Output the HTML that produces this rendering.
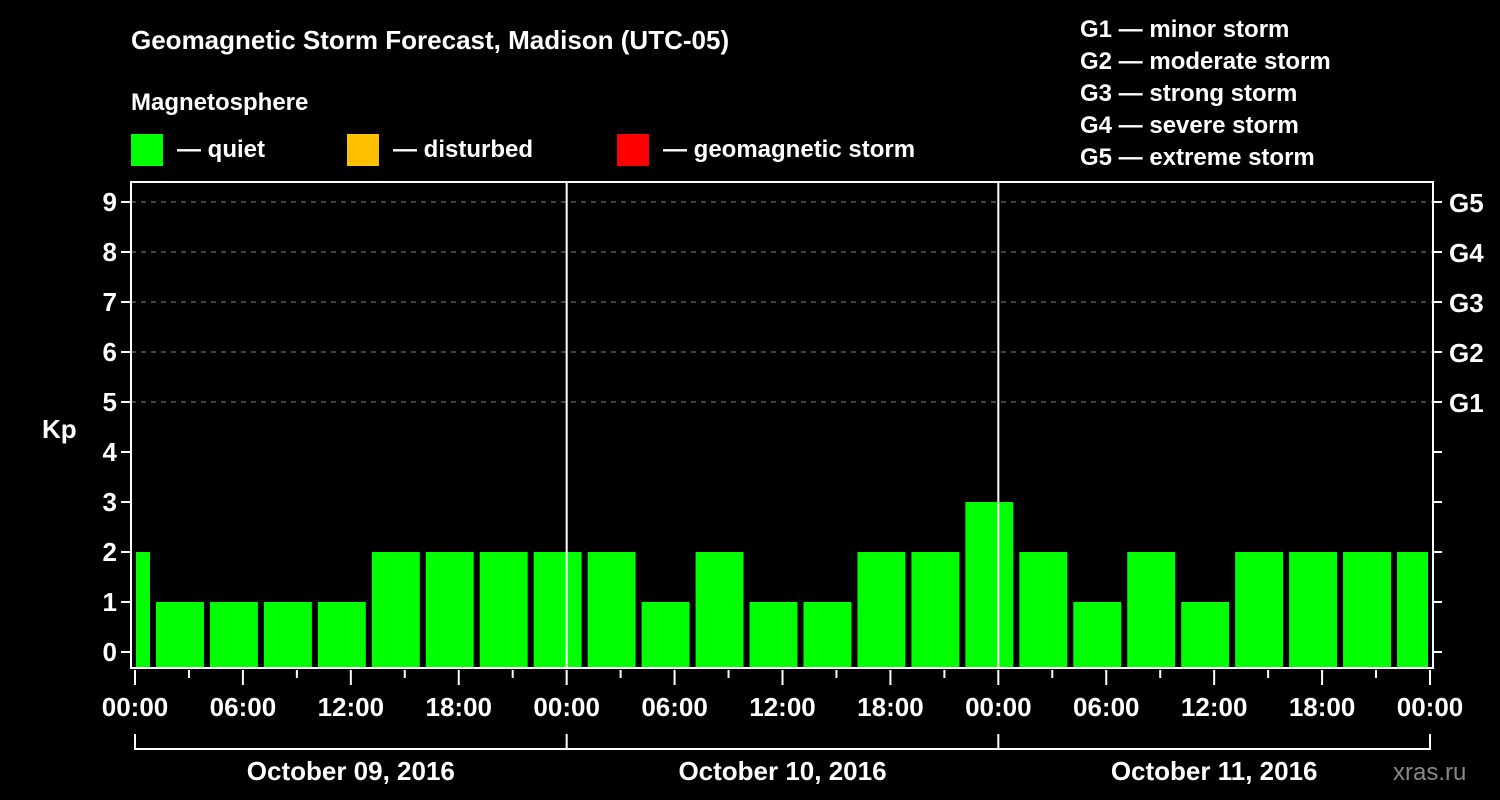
<!DOCTYPE html>
<html><head><meta charset="utf-8"><style>
body{margin:0;background:#000;}
svg{display:block;font-family:"Liberation Sans",Arial,sans-serif;font-weight:bold;}
</style></head><body>
<svg id="c" width="1500" height="800" viewBox="0 0 1500 800">
<rect width="1500" height="800" fill="#000"/>
<text x="131" y="49" fill="#fff" font-size="26">Geomagnetic Storm Forecast, Madison (UTC-05)</text>
<text x="131" y="110" fill="#fff" font-size="24">Magnetosphere</text>
<g><rect x="131" y="134" width="32" height="32" fill="#00ff00"/><text x="177" y="157" fill="#fff" font-size="24">— quiet</text></g>
<g><rect x="347" y="134" width="32" height="32" fill="#ffc000"/><text x="393" y="157" fill="#fff" font-size="24">— disturbed</text></g>
<g><rect x="617" y="134" width="32" height="32" fill="#ff0000"/><text x="663" y="157" fill="#fff" font-size="24">— geomagnetic storm</text></g>
<g fill="#fff" font-size="24">
<text x="1080" y="37">G1 — minor storm</text><text x="1080" y="69">G2 — moderate storm</text><text x="1080" y="101">G3 — strong storm</text><text x="1080" y="133">G4 — severe storm</text><text x="1080" y="165">G5 — extreme storm</text>
</g>
<text x="42" y="438" fill="#fff" font-size="26">Kp</text>
<text x="1393" y="780" fill="#888" font-size="24" font-weight="normal">xras.ru</text>
<g id="grid"></g><g id="bars"></g><g id="axes"></g>
</svg>
<script>
const kpValues=[2,1,1,1,1,2,2,2,2,2,1,2,1,1,2,2,3,2,1,2,1,2,2,2,2];
const barStartHours=[-2,1,4,7,10,13,16,19,22,25,28,31,34,37,40,43,46,49,52,55,58,61,64,67,70];
const yTicks=[0,1,2,3,4,5,6,7,8,9];
const gLabels=["","","","","","G1","G2","G3","G4","G5"];
const xTickLabels=["00:00","06:00","12:00","18:00","00:00","06:00","12:00","18:00","00:00","06:00","12:00","18:00","00:00"];
const dateLabels=["October 09, 2016","October 10, 2016","October 11, 2016"];
const NS="http://www.w3.org/2000/svg";
const L=131,R=1433,T=182,B=668,X0=135,HPX=(1430-135)/72;
const x=h=>X0+h*HPX, y=v=>652-50*v;
function mk(p,t,a){const e=document.createElementNS(NS,t);for(const k in a)e.setAttribute(k,a[k]);p.appendChild(e);return e;}
const grid=document.getElementById('grid'),bars=document.getElementById('bars'),axes=document.getElementById('axes');
yTicks.forEach(v=>{if(v>=5){const g=mk(grid,'line',{x1:L,x2:R,y1:y(v),y2:y(v),stroke:'#888','stroke-dasharray':'5,5','stroke-width':1});

}});
kpValues.forEach((v,i)=>{const h=barStartHours[i];let x1=Math.max(x(h)+3,L+5),x2=Math.min(x(h+3)-3,1428);
const r=mk(bars,'rect',{x:x1,y:y(v),width:x2-x1,height:B-y(v),fill:v>=5?'#ff0000':(v>=4?'#ffc000':'#00ff00')});

});
[24,48].forEach(h=>{const l=mk(axes,'line',{x1:x(h),x2:x(h),y1:T,y2:B,stroke:'#fff','stroke-width':2});

});
const fr=mk(axes,'rect',{x:L,y:T,width:R-L,height:B-T,fill:'none',stroke:'#fff','stroke-width':2});


yTicks.forEach((v,i)=>{mk(axes,'line',{x1:L-10,x2:L,y1:y(v),y2:y(v),stroke:'#fff','stroke-width':2});
mk(axes,'line',{x1:R,x2:R+9,y1:y(v),y2:y(v),stroke:'#fff','stroke-width':2});
const t=mk(axes,'text',{x:L-14,y:y(v)+9,fill:'#fff','font-size':26,'text-anchor':'end'});t.textContent=v;


if(gLabels[i]){const g=mk(axes,'text',{x:1449,y:y(v)+10,fill:'#fff','font-size':26});g.textContent=gLabels[i];

}});
for(let h=0;h<=72;h+=3){const major=h%6==0;mk(axes,'line',{x1:x(h),x2:x(h),y1:B+2,y2:B+(major?17:10),stroke:'#fff','stroke-width':2});}
xTickLabels.forEach((s,i)=>{const t=mk(axes,'text',{x:x(i*6),y:716,fill:'#fff','font-size':26,'text-anchor':'middle'});t.textContent=s;

});
mk(axes,'line',{x1:x(0),x2:x(72),y1:749,y2:749,stroke:'#fff','stroke-width':2});
[0,24,48,72].forEach(h=>mk(axes,'line',{x1:x(h),x2:x(h),y1:734,y2:750,stroke:'#fff','stroke-width':2}));
dateLabels.forEach((s,i)=>{const t=mk(axes,'text',{x:x(i*24+12),y:780,fill:'#fff','font-size':26,'text-anchor':'middle'});t.textContent=s;

});
</script>
</body></html>
